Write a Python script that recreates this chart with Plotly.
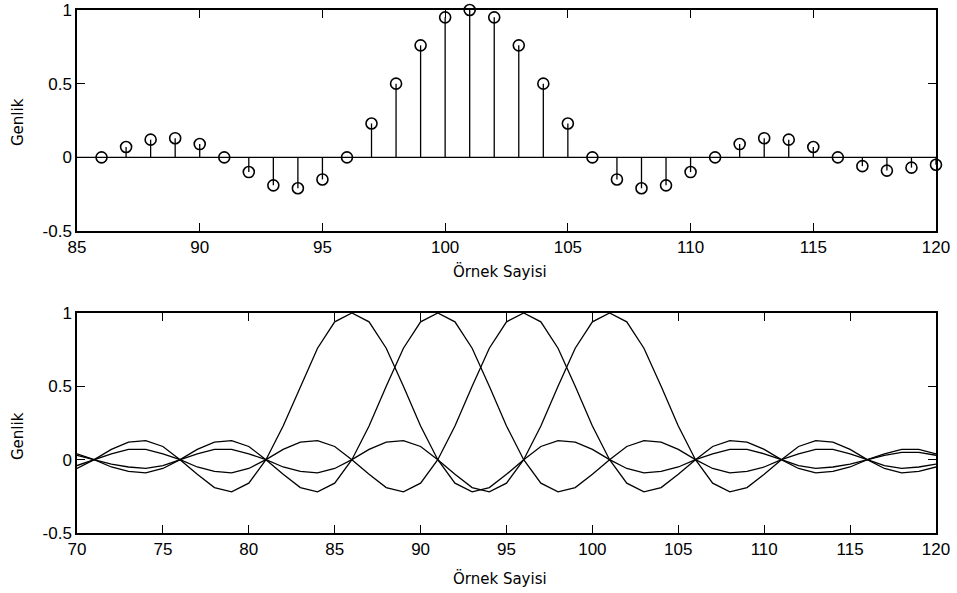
import plotly.graph_objects as go
from plotly.subplots import make_subplots

# ---- Top panel: stem plot (sample index vs amplitude) ----
top_x = list(range(86, 121))
top_y = [0.00, 0.07, 0.12, 0.13, 0.09, 0.00, -0.10, -0.19, -0.21, -0.15,
         0.00, 0.23, 0.50, 0.76, 0.95, 1.00, 0.95, 0.76, 0.50, 0.23,
         0.00, -0.15, -0.21, -0.19, -0.10, 0.00, 0.09, 0.13, 0.12, 0.07,
         0.00, -0.06, -0.09, -0.07, -0.05]

# ---- Bottom panel: four shifted pulses ----
bot_x = list(range(70, 121))
pulse_86 = [-0.06, 0.00, 0.07, 0.12, 0.13, 0.09, 0.00, -0.10, -0.19, -0.22,
            -0.16, 0.00, 0.23, 0.50, 0.76, 0.94, 1.00, 0.94, 0.76, 0.50,
            0.23, 0.00, -0.16, -0.22, -0.19, -0.10, 0.00, 0.09, 0.13, 0.12,
            0.07, 0.00, -0.06, -0.09, -0.08, -0.05, 0.00, 0.04, 0.07, 0.07,
            0.04, 0.00, -0.04, -0.06, -0.05, -0.03, 0.00, 0.03, 0.05, 0.05,
            0.03]
pulse_91 = [0.04, 0.00, -0.05, -0.08, -0.09, -0.06, 0.00, 0.07, 0.12, 0.13,
            0.09, 0.00, -0.10, -0.19, -0.22, -0.16, 0.00, 0.23, 0.50, 0.76,
            0.94, 1.00, 0.94, 0.76, 0.50, 0.23, 0.00, -0.16, -0.22, -0.19,
            -0.10, 0.00, 0.09, 0.13, 0.12, 0.07, 0.00, -0.06, -0.09, -0.08,
            -0.05, 0.00, 0.04, 0.07, 0.07, 0.04, 0.00, -0.04, -0.06, -0.05,
            -0.03]
pulse_96 = [-0.04, 0.00, 0.04, 0.07, 0.07, 0.04, 0.00, -0.05, -0.08, -0.09,
            -0.06, 0.00, 0.07, 0.12, 0.13, 0.09, 0.00, -0.10, -0.19, -0.22,
            -0.16, 0.00, 0.23, 0.50, 0.76, 0.94, 1.00, 0.94, 0.76, 0.50,
            0.23, 0.00, -0.16, -0.22, -0.19, -0.10, 0.00, 0.09, 0.13, 0.12,
            0.07, 0.00, -0.06, -0.09, -0.08, -0.05, 0.00, 0.04, 0.07, 0.07,
            0.04]
pulse_101 = [0.03, 0.00, -0.03, -0.05, -0.06, -0.04, 0.00, 0.04, 0.07, 0.07,
             0.04, 0.00, -0.05, -0.08, -0.09, -0.06, 0.00, 0.07, 0.12, 0.13,
             0.09, 0.00, -0.10, -0.19, -0.22, -0.16, 0.00, 0.23, 0.50, 0.76,
             0.94, 1.00, 0.94, 0.76, 0.50, 0.23, 0.00, -0.16, -0.22, -0.19,
             -0.10, 0.00, 0.09, 0.13, 0.12, 0.07, 0.00, -0.06, -0.09, -0.08,
             -0.05]
bottom_series = [pulse_86, pulse_91, pulse_96, pulse_101]

top_xticks = [85, 90, 95, 100, 105, 110, 115, 120]
bot_xticks = [70, 75, 80, 85, 90, 95, 100, 105, 110, 115, 120]
yticks = [-0.5, 0, 0.5, 1]
ytick_text = ["-0.5", "0", "0.5", "1"]
x_title = "Örnek Sayisi"
y_title = "Genlik"

# body margin is reset to 0 by post_script below
W, H = 957, 593
# target page-pixel positions of plot frames
P_L, P_R = 77, 936
TOP_T, TOP_B = 10, 231
BOT_T, BOT_B = 313, 533

ML = P_L
MR = W - P_R
MT = TOP_T
MB = H - BOT_B
ph = H - MT - MB
pw = W - ML - MR

def px_x(p):
    return (p - ML) / pw

def px_y(p):
    return (H - MB - p) / ph

top_dom = [px_y(TOP_B), 1.0]
bot_dom = [0.0, px_y(BOT_T)]

fig = make_subplots(rows=2, cols=1)
fig.update_layout(
    xaxis=dict(domain=[0, 1]), xaxis2=dict(domain=[0, 1]),
    yaxis=dict(domain=top_dom), yaxis2=dict(domain=bot_dom),
)

# stems
sx, sy = [], []
for xv, yv in zip(top_x, top_y):
    sx += [xv, xv, None]
    sy += [0, yv, None]
fig.add_trace(go.Scatter(x=sx, y=sy, mode="lines",
                         line=dict(color="black", width=1.3),
                         hoverinfo="skip", showlegend=False), row=1, col=1)
# baseline
fig.add_trace(go.Scatter(x=[85, 120], y=[0, 0], mode="lines",
                         line=dict(color="black", width=1.3),
                         hoverinfo="skip", showlegend=False), row=1, col=1)
# circles
fig.add_trace(go.Scatter(x=top_x, y=top_y, mode="markers",
                         marker=dict(symbol="circle-open", size=11,
                                     color="black", line=dict(width=1.6)),
                         showlegend=False, cliponaxis=False), row=1, col=1)

for s in bottom_series:
    fig.add_trace(go.Scatter(x=bot_x, y=s, mode="lines",
                             line=dict(color="black", width=1.3),
                             showlegend=False), row=2, col=1)

tickfont = dict(family="Liberation Sans Narrow, Arial Narrow, Liberation Sans, Arial",
                size=17, color="black")
axis_common = dict(showgrid=False, zeroline=False, showline=True,
                   linecolor="black", linewidth=1.5, mirror="ticks",
                   ticks="inside", ticklen=8, tickwidth=1.2, tickcolor="black",
                   tickfont=tickfont, ticklabeloverflow="allow")

fig.update_xaxes(range=[85, 120], tickvals=top_xticks,
                 ticktext=[str(v) for v in top_xticks], row=1, col=1, **axis_common)
fig.update_xaxes(range=[70, 120], tickvals=bot_xticks,
                 ticktext=[str(v) for v in bot_xticks], row=2, col=1, **axis_common)
fig.update_yaxes(range=[-0.5, 1], tickvals=yticks, ticktext=ytick_text,
                 row=1, col=1, **axis_common)
fig.update_yaxes(range=[-0.5, 1], tickvals=yticks, ticktext=ytick_text,
                 row=2, col=1, **axis_common)

titlefont = dict(family="DejaVu Sans, Verdana, sans-serif", size=15, color="black")

annots = [
    dict(text=x_title, x=px_x(500), y=px_y(271), xref="paper", yref="paper",
         showarrow=False, font=titlefont, xanchor="center", yanchor="middle"),
    dict(text=x_title, x=px_x(500), y=px_y(578), xref="paper", yref="paper",
         showarrow=False, font=titlefont, xanchor="center", yanchor="middle"),
    dict(text=y_title, x=px_x(18), y=px_y(122), xref="paper", yref="paper",
         showarrow=False, font=titlefont, textangle=-90,
         xanchor="center", yanchor="middle"),
    dict(text=y_title, x=px_x(18), y=px_y(436), xref="paper", yref="paper",
         showarrow=False, font=titlefont, textangle=-90,
         xanchor="center", yanchor="middle"),
]

fig.update_layout(
    width=W, height=H,
    margin=dict(l=ML, r=MR, t=MT, b=MB, autoexpand=False),
    paper_bgcolor="white", plot_bgcolor="white",
    annotations=annots,
    showlegend=False,
)

fig.write_html("out.html",
               config={"displayModeBar": False},
               post_script="document.body.style.margin='0';document.body.style.padding='0';")
